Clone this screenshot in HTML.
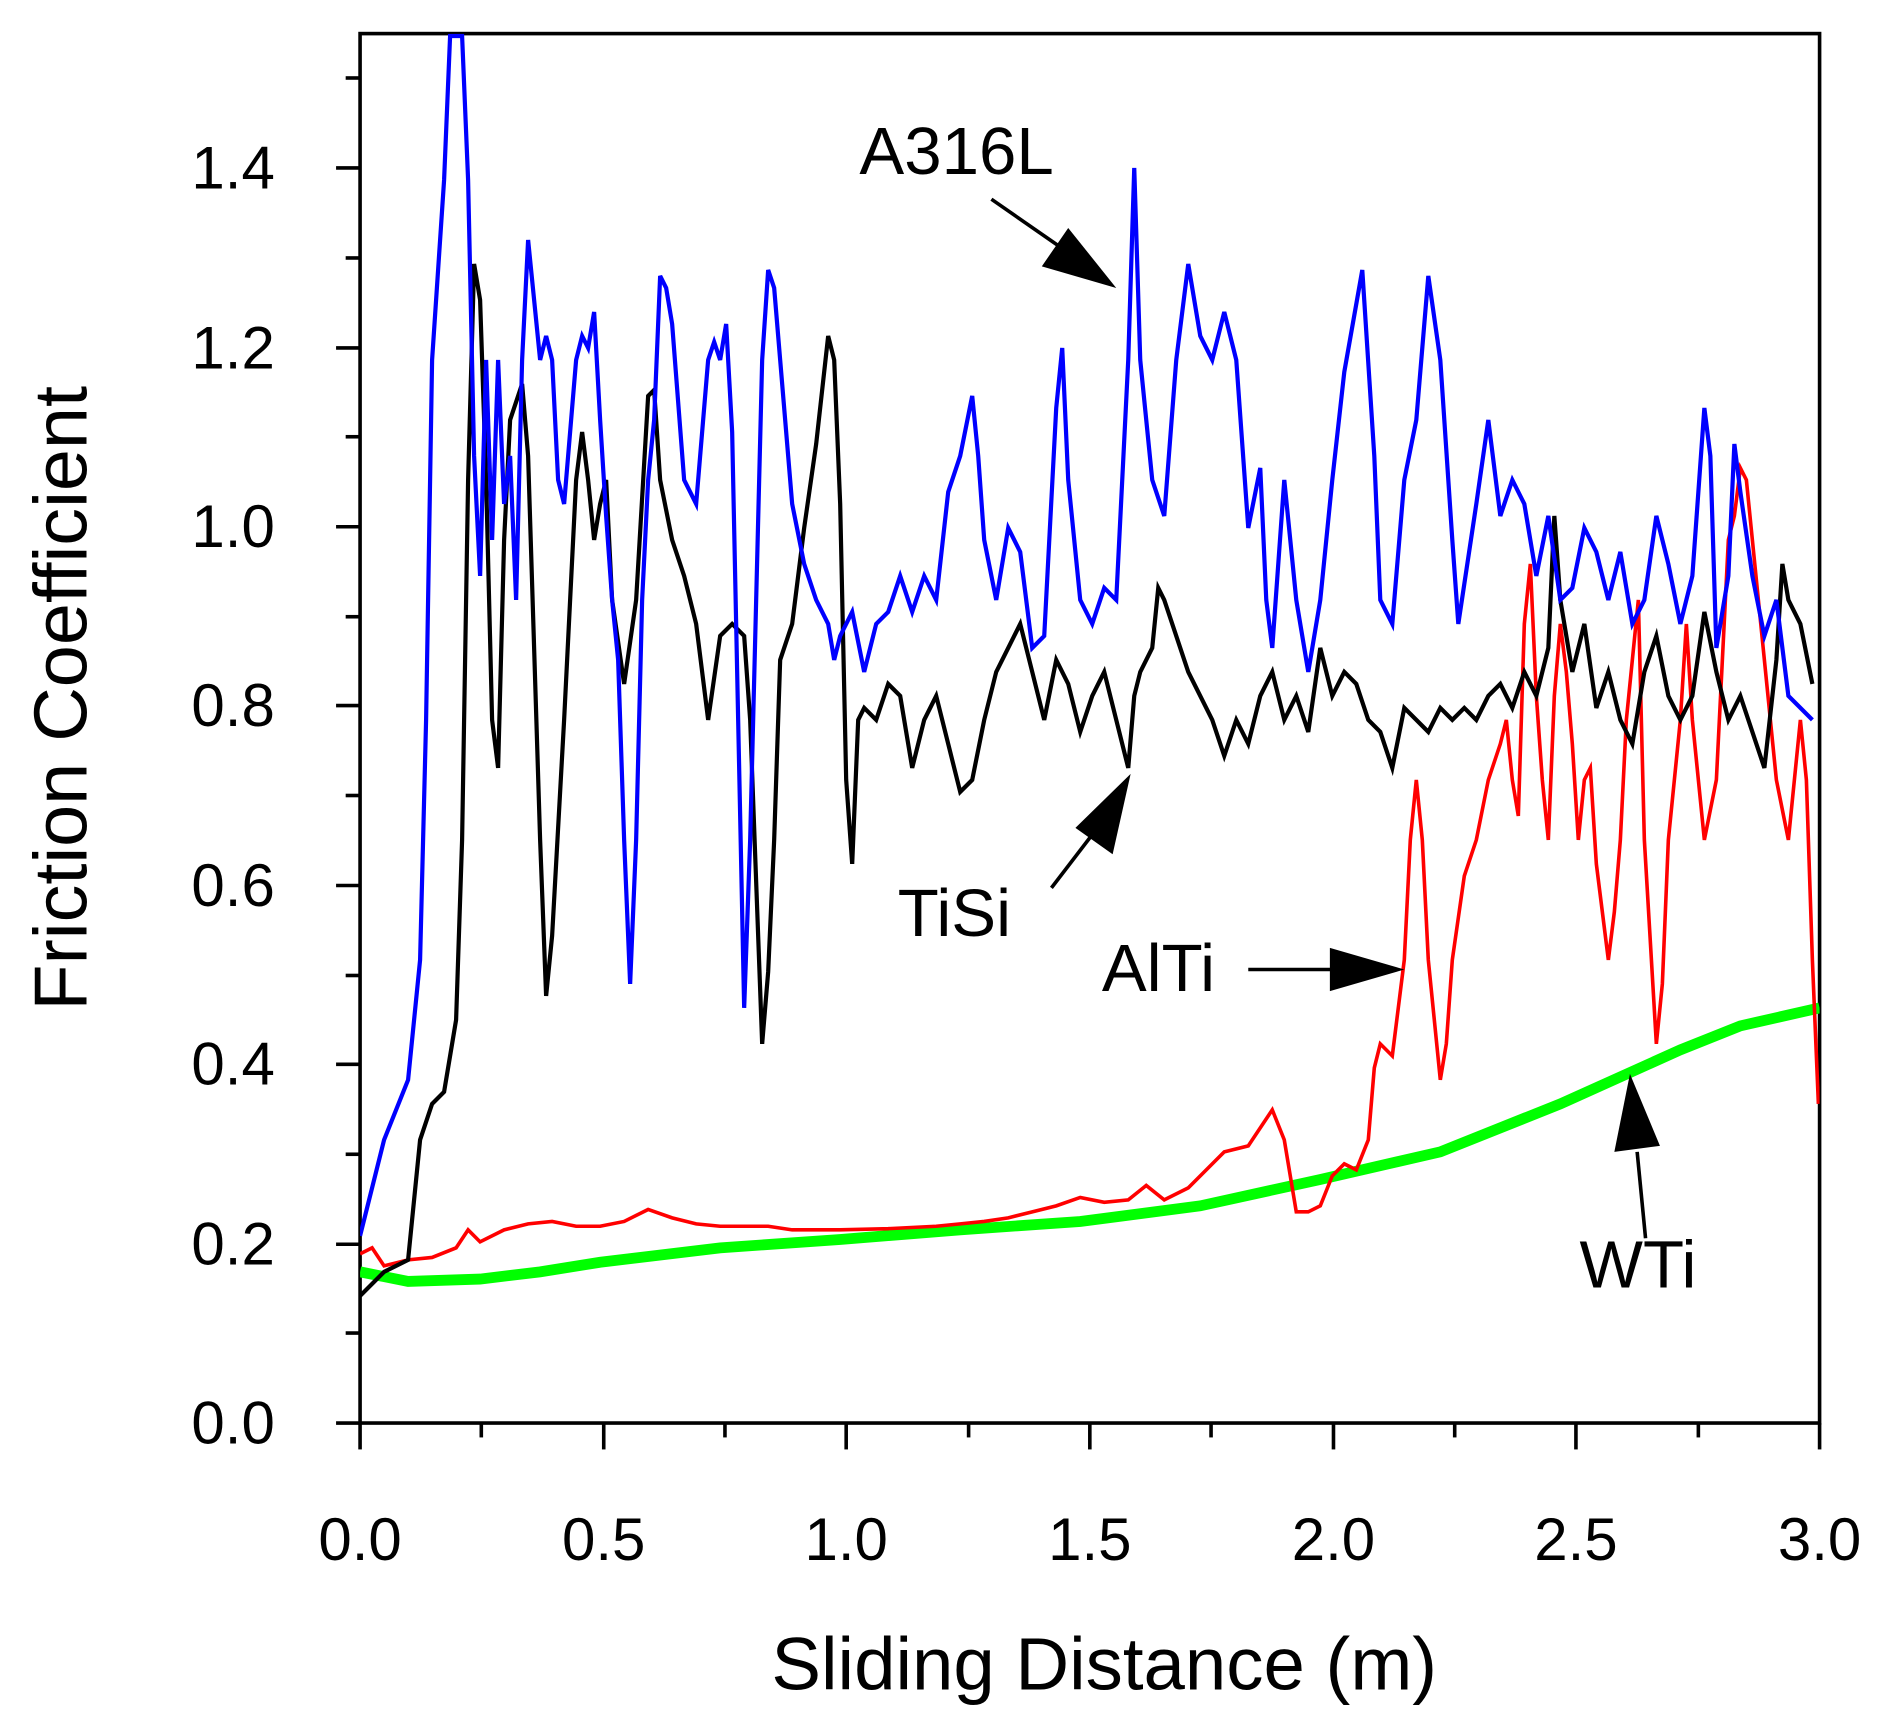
<!DOCTYPE html>
<html><head><meta charset="utf-8"><style>html,body{margin:0;padding:0;background:#fff}svg{display:block}</style></head>
<body>
<svg width="1882" height="1723" viewBox="0 0 1568 1436" preserveAspectRatio="none" xmlns="http://www.w3.org/2000/svg" font-family="Liberation Sans, Arial, sans-serif">
<rect x="300" y="28" width="1216" height="1158" fill="none" stroke="#000" stroke-width="3"/>
<g stroke="#000" stroke-width="3">
<line x1="280" y1="1186" x2="300" y2="1186"/><line x1="288" y1="1111" x2="300" y2="1111"/>
<line x1="280" y1="1037" x2="300" y2="1037"/><line x1="288" y1="962" x2="300" y2="962"/>
<line x1="280" y1="887" x2="300" y2="887"/><line x1="288" y1="813" x2="300" y2="813"/>
<line x1="280" y1="738" x2="300" y2="738"/><line x1="288" y1="663" x2="300" y2="663"/>
<line x1="280" y1="588" x2="300" y2="588"/><line x1="288" y1="514" x2="300" y2="514"/>
<line x1="280" y1="439" x2="300" y2="439"/><line x1="288" y1="364" x2="300" y2="364"/>
<line x1="280" y1="290" x2="300" y2="290"/><line x1="288" y1="215" x2="300" y2="215"/>
<line x1="280" y1="140" x2="300" y2="140"/><line x1="288" y1="65" x2="300" y2="65"/>
<line x1="300" y1="1186" x2="300" y2="1208"/><line x1="401" y1="1186" x2="401" y2="1198"/>
<line x1="503" y1="1186" x2="503" y2="1208"/><line x1="604" y1="1186" x2="604" y2="1198"/>
<line x1="705" y1="1186" x2="705" y2="1208"/><line x1="807" y1="1186" x2="807" y2="1198"/>
<line x1="908" y1="1186" x2="908" y2="1208"/><line x1="1009" y1="1186" x2="1009" y2="1198"/>
<line x1="1111" y1="1186" x2="1111" y2="1208"/><line x1="1212" y1="1186" x2="1212" y2="1198"/>
<line x1="1313" y1="1186" x2="1313" y2="1208"/><line x1="1415" y1="1186" x2="1415" y2="1198"/>
<line x1="1516" y1="1186" x2="1516" y2="1208"/>
</g>
<g font-size="50" text-anchor="end" fill="#000">
<text x="229" y="1203">0.0</text><text x="229" y="1054">0.2</text><text x="229" y="904">0.4</text>
<text x="229" y="755">0.6</text><text x="229" y="605">0.8</text><text x="229" y="456">1.0</text>
<text x="229" y="307">1.2</text><text x="229" y="157">1.4</text>
</g>
<g font-size="50" text-anchor="middle" fill="#000">
<text x="300" y="1300">0.0</text><text x="503" y="1300">0.5</text><text x="705" y="1300">1.0</text>
<text x="908" y="1300">1.5</text><text x="1111" y="1300">2.0</text><text x="1313" y="1300">2.5</text><text x="1516" y="1300">3.0</text>
</g>
<text x="920" y="1408" font-size="62" text-anchor="middle">Sliding Distance (m)</text>
<text transform="translate(72,582) rotate(-90)" font-size="63" text-anchor="middle">Friction Coefficient</text>
<svg x="300" y="28" width="1216" height="1158" viewBox="300 28 1216 1158" overflow="hidden">
<polyline fill="none" stroke="#00ff00" stroke-width="9" points="300,1060 340,1068 400,1066 450,1060 500,1052 600,1040 700,1033 800,1025 900,1018 1000,1005 1100,983 1200,960 1300,920 1400,875 1450,855 1516,840"/>
<polyline fill="none" stroke="#ff0000" stroke-width="3" points="300,1045 310,1040 320,1055 340,1050 360,1048 380,1040 390,1025 400,1035 420,1025 440,1020 460,1018 480,1022 500,1022 520,1018 540,1008 560,1015 580,1020 600,1022 640,1022 660,1025 700,1025 740,1024 780,1022 800,1020 820,1018 840,1015 860,1010 880,1005 900,998 920,1002 940,1000 955,988 970,1000 990,990 1010,970 1020,960 1040,955 1060,925 1070,950 1080,1010 1090,1010 1100,1005 1110,980 1120,970 1130,975 1140,950 1145,890 1150,870 1160,880 1170,800 1175,700 1180,650 1185,700 1190,800 1195,850 1200,900 1205,870 1210,800 1220,730 1230,700 1240,650 1250,620 1255,600 1260,650 1265,680 1270,520 1275,470 1280,580 1285,650 1290,700 1295,580 1300,520 1305,560 1310,620 1315,700 1320,650 1325,640 1330,720 1340,800 1345,760 1350,700 1355,600 1360,550 1365,500 1370,700 1380,870 1385,820 1390,700 1400,600 1405,520 1410,600 1415,650 1420,700 1430,650 1440,450 1445,430 1450,390 1455,400 1460,450 1470,550 1480,650 1490,700 1495,650 1500,600 1505,650 1510,800 1515,920"/>
<polyline fill="none" stroke="#000" stroke-width="3.5" points="300,1080 320,1060 340,1050 350,950 360,920 370,910 380,850 385,700 390,400 395,220 400,250 405,400 410,600 415,640 420,450 425,350 435,320 440,380 450,700 455,830 460,780 470,600 480,400 485,360 490,400 495,450 500,420 505,400 510,500 520,570 530,500 540,330 545,325 550,400 560,450 570,480 580,520 590,600 600,530 610,520 620,530 625,600 635,870 640,810 645,700 650,550 660,520 665,480 670,440 680,370 690,280 695,300 700,420 705,650 710,720 715,600 720,590 730,600 740,570 750,580 760,640 770,600 780,580 790,620 800,660 810,650 820,600 830,560 840,540 850,520 860,560 870,600 880,550 890,570 900,610 910,580 920,560 930,600 940,640 945,580 950,560 960,540 965,490 970,500 980,530 990,560 1000,580 1010,600 1020,630 1030,600 1040,620 1050,580 1060,560 1070,600 1080,580 1090,610 1100,540 1110,580 1120,560 1130,570 1140,600 1150,610 1160,640 1170,590 1180,600 1190,610 1200,590 1210,600 1220,590 1230,600 1240,580 1250,570 1260,590 1270,560 1280,580 1290,540 1295,430 1300,500 1310,560 1320,520 1330,590 1340,560 1350,600 1360,620 1370,560 1380,530 1390,580 1400,600 1410,580 1420,510 1430,560 1440,600 1450,580 1460,610 1470,640 1480,550 1485,470 1490,500 1500,520 1510,570"/>
<polyline fill="none" stroke="#0000ff" stroke-width="3.5" points="300,1030 320,950 340,900 350,800 355,600 360,300 370,150 375,30 385,30 390,150 395,380 400,480 405,300 410,450 415,300 420,420 425,380 430,500 435,300 440,200 445,250 450,300 455,280 460,300 465,400 470,420 480,300 485,280 490,290 495,260 500,350 505,430 510,500 515,550 520,700 525,820 530,700 535,500 540,400 545,350 550,230 555,240 560,270 570,400 580,420 590,300 595,285 600,300 605,270 610,360 615,600 620,840 625,700 630,500 635,300 640,225 645,240 650,300 660,420 670,470 680,500 690,520 695,550 700,530 710,510 720,560 730,520 740,510 750,480 760,510 770,480 780,500 790,410 800,380 810,330 815,380 820,450 830,500 840,440 850,460 860,540 870,530 880,340 885,290 890,400 900,500 910,520 920,490 930,500 940,300 945,140 950,300 960,400 970,430 980,300 990,220 1000,280 1010,300 1020,260 1030,300 1040,440 1050,390 1055,500 1060,540 1070,400 1080,500 1090,560 1100,500 1110,400 1120,310 1135,225 1145,380 1150,500 1160,520 1170,400 1180,350 1190,230 1200,300 1210,450 1215,520 1230,420 1240,350 1250,430 1260,400 1270,420 1280,480 1290,430 1300,500 1310,490 1320,440 1330,460 1340,500 1350,460 1360,520 1370,500 1380,430 1390,470 1400,520 1410,480 1420,340 1425,380 1430,540 1440,480 1445,370 1450,410 1460,480 1470,530 1480,500 1490,580 1500,590 1510,600"/>
</svg>
<g font-size="56" fill="#000">
<text x="716" y="145">A316L</text>
<text x="748" y="780">TiSi</text>
<text x="918" y="826">AlTi</text>
<text x="1316" y="1073">WTi</text>
</g>
<g stroke="#000" stroke-width="3">
<line x1="826" y1="166" x2="885" y2="207"/>
<line x1="876" y1="740" x2="912" y2="693"/>
<line x1="1040" y1="808" x2="1110" y2="808"/>
<line x1="1371" y1="1032" x2="1364" y2="960"/>
</g>
<g fill="#000">
<polygon points="930,240 868,222 890,190"/>
<polygon points="942,645 927,712 896,690"/>
<polygon points="1170,808 1108,790 1108,826"/>
<polygon points="1358,895 1383,955 1345,960"/>
</g>
</svg>
</body></html>
